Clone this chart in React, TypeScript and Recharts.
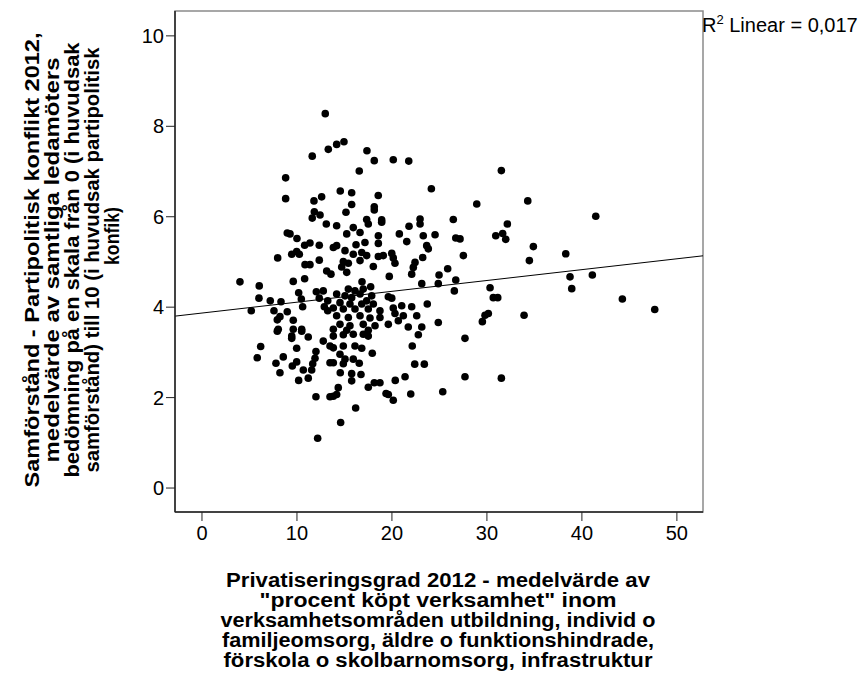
import { ScatterChart, Scatter, XAxis, YAxis, ReferenceLine, ReferenceArea } from "recharts";

// Privatiseringsgrad 2012 (x) per kommun
const privGrad = [
  12.98, 13.3, 11.61, 8.81, 8.81, 12.6, 11.79, 11.83, 12.43, 11.61,
  14.18, 14.95, 17.37, 18.14, 20.14, 21.77, 16.56, 14.56, 15.76, 18.56,
  24.15, 15.76, 18.14, 18.14, 15.16, 17.34, 18.92, 22.96, 26.46, 8.98,
  9.27, 10.0, 10.81, 11.37, 12.35, 13.09, 7.97, 9.45, 9.97, 10.25,
  10.85, 11.37, 12.35, 13.13, 4.0, 6.03, 9.61, 10.81, 6.0, 7.19,
  8.32, 10.18, 10.46, 12.04, 12.77, 12.35, 13.24, 5.19, 7.58, 8.98,
  8.21, 7.93, 10.6, 9.61, 12.88, 13.24, 8.03, 9.61, 10.5, 14.18,
  15.93, 16.64, 15.24, 17.51, 18.92, 21.8, 20.78, 21.56, 18.57, 18.57,
  17.16, 16.22, 14.18, 13.83, 15.06, 15.93, 16.82, 17.34, 18.57, 19.09,
  19.98, 20.14, 20.32, 18.04, 16.64, 15.41, 14.88, 14.71, 15.24, 13.58,
  19.72, 22.43, 22.25, 22.08, 23.3, 23.66, 23.83, 24.54, 23.24, 25.87,
  24.96, 26.72, 22.96, 16.85, 17.76, 15.41, 16.11, 16.98, 14.18, 15.06,
  15.76, 16.64, 17.87, 17.34, 14.53, 15.58, 16.82, 18.04, 13.83, 14.88,
  16.11, 17.51, 18.74, 19.62, 19.98, 20.14, 21.03, 22.08, 23.14, 24.88,
  26.57, 26.72, 23.72, 20.32, 21.2, 22.61, 14.18, 15.41, 16.64, 17.69,
  18.74, 14.53, 15.58, 16.98, 18.22, 19.62, 20.67, 21.72, 23.14, 24.88,
  13.83, 15.24, 17.51, 7.93, 9.45, 9.45, 10.5, 11.19, 12.77, 6.18,
  5.82, 8.56, 9.97, 12.0, 7.79, 11.9, 11.66, 9.51, 9.97, 10.67,
  11.55, 8.21, 10.18, 11.19, 12.0, 12.18, 13.48, 13.48, 13.48, 13.83,
  14.88, 15.93, 16.98, 17.51, 13.83, 14.88, 16.11, 16.82, 14.53, 15.06,
  15.93, 16.56, 13.83, 14.88, 17.93, 14.56, 15.76, 15.76, 16.74, 14.35,
  13.83, 14.18, 17.51, 18.14, 18.74, 19.38, 19.62, 20.14, 20.35, 21.38,
  21.98, 22.4, 23.41, 22.14, 22.78, 25.35, 16.18, 14.6, 31.52, 28.93,
  34.3, 32.15, 30.93, 31.66, 31.98, 34.89, 27.52, 34.47, 38.3, 41.46,
  27.17, 30.33, 30.67, 31.14, 30.15, 29.8, 29.52, 33.91, 27.69, 27.69,
  31.52, 38.75, 38.93, 41.1, 44.26, 47.67,
];

// Samförstånd - partipolitisk konflikt 2012 (y) per kommun
const samforstand = [
  8.28, 7.49, 7.34, 6.86, 6.4, 6.44, 6.35, 6.11, 6.04, 5.97,
  7.6, 7.66, 7.46, 7.24, 7.26, 7.23, 7.01, 6.57, 6.53, 6.47,
  6.62, 6.27, 6.22, 6.15, 6.1, 5.94, 5.93, 5.95, 5.94, 5.64,
  5.62, 5.52, 5.37, 5.42, 5.37, 5.84, 5.09, 5.17, 5.23, 5.17,
  4.94, 4.94, 5.04, 4.8, 4.56, 4.47, 4.57, 4.63, 4.2, 4.14,
  4.12, 4.32, 4.18, 4.34, 4.36, 4.2, 4.14, 3.92, 3.92, 3.9,
  3.79, 3.72, 4.01, 3.71, 4.01, 3.92, 3.51, 3.51, 3.51, 5.8,
  5.76, 5.65, 5.62, 5.84, 5.88, 5.79, 5.62, 5.45, 5.58, 5.41,
  5.43, 5.38, 5.36, 5.32, 5.25, 5.17, 5.21, 5.14, 5.12, 5.14,
  5.19, 5.09, 4.97, 4.9, 5.03, 4.97, 5.01, 4.89, 4.77, 4.73,
  4.68, 4.99, 4.88, 4.73, 5.58, 5.36, 5.29, 5.6, 5.1, 4.85,
  4.71, 5.53, 5.84, 4.56, 4.45, 4.4, 4.36, 4.4, 4.29, 4.25,
  4.21, 4.29, 4.25, 4.14, 4.1, 4.07, 4.07, 4.07, 3.98, 3.96,
  3.96, 3.96, 3.92, 4.23, 4.2, 3.98, 4.03, 4.01, 4.52, 4.52,
  4.36, 4.6, 4.07, 3.86, 3.81, 3.81, 3.81, 3.77, 3.81, 3.76,
  3.77, 3.62, 3.59, 3.62, 3.59, 3.62, 3.7, 3.56, 3.56, 3.66,
  3.51, 3.49, 3.49, 3.47, 3.36, 3.31, 3.47, 3.34, 3.25, 3.13,
  2.88, 2.9, 3.09, 3.02, 2.76, 2.87, 2.75, 2.7, 2.79, 2.61,
  2.61, 2.55, 2.38, 2.43, 2.02, 1.1, 3.14, 2.77, 2.02, 3.36,
  3.39, 3.4, 3.4, 3.36, 3.1, 3.14, 3.14, 3.09, 2.96, 2.85,
  2.85, 2.76, 2.77, 2.75, 2.98, 2.55, 2.53, 2.37, 2.51, 2.22,
  2.03, 2.07, 2.23, 2.33, 2.33, 2.09, 2.07, 1.94, 2.38, 2.46,
  2.08, 2.74, 2.74, 3.14, 3.39, 2.13, 1.77, 1.45, 7.02, 6.28,
  6.35, 5.84, 5.58, 5.63, 5.5, 5.34, 5.14, 5.03, 5.18, 6.01,
  5.51, 4.43, 4.21, 4.21, 3.86, 3.82, 3.68, 3.82, 3.31, 2.46,
  2.43, 4.67, 4.41, 4.71, 4.18, 3.95,
];

const xTicks = [0, 10, 20, 30, 40, 50];
const yTicks = [0, 2, 4, 6, 8, 10];
const xDomain = [-2.84, 52.75];
const yDomain = [-0.53, 10.55];

// linjär anpassning (avläst)
const fitIntercept = 3.87;
const fitSlope = 0.024;
const r2Value = "0,017";

const yTitleLines = [
  "Samförstånd - Partipolitisk konflikt  2012,",
  "medelvärde av samtliga ledamöters",
  "bedömning på en skala från 0 (i huvudsak",
  "samförstånd) till 10 (i huvudsak partipolitisk",
  "konfik)",
];

const xTitleLines = [
  "Privatiseringsgrad 2012 - medelvärde av",
  "\"procent köpt verksamhet\" inom",
  "verksamhetsområden utbildning, individ o",
  "familjeomsorg, äldre o funktionshindrade,",
  "förskola o skolbarnomsorg, infrastruktur",
];

const points = privGrad.map((x, i) => ({ x, y: samforstand[i] }));
const fitSegment = xDomain.map((x) => ({ x, y: fitIntercept + fitSlope * x }));

const font = "'Liberation Sans', Arial, Helvetica, sans-serif";

const Dot = (props: any) => (
  <circle cx={props.cx} cy={props.cy} r={3.8} fill="#000" />
);

const yTitleLen = [455, 405, 435, 425, 58];
const yTitleCenter = [260, 260, 260, 260, 236];
const xTitleLen = [424, 357, 435, 432, 429];

export default function App() {
  return (
    <div style={{ position: "absolute", left: 0, top: 0, width: 861, height: 680, background: "#fff" }}>
      <ScatterChart
        width={861}
        height={680}
        margin={{ top: 11, right: 158, left: 115, bottom: 128 }}
      >
        <ReferenceArea
          x1={xDomain[0]}
          x2={xDomain[1]}
          y1={yDomain[0]}
          y2={yDomain[1]}
          fill="none"
          stroke="#8a8a8a"
          strokeWidth={1.5}
          ifOverflow="visible"
        />
        <XAxis
          type="number"
          dataKey="x"
          domain={xDomain}
          ticks={xTicks}
          allowDataOverflow
          height={40}
          tickSize={9}
          tickMargin={5}
          axisLine={{ stroke: "#222", strokeWidth: 1.5 }}
          tickLine={{ stroke: "#222" }}
          tick={{ fill: "#000", fontSize: 20, fontFamily: font }}
        />
        <YAxis
          type="number"
          dataKey="y"
          domain={yDomain}
          ticks={yTicks}
          allowDataOverflow
          width={60}
          tickSize={9}
          tickMargin={2}
          axisLine={{ stroke: "#222", strokeWidth: 1.5 }}
          tickLine={{ stroke: "#222" }}
          tick={{ fill: "#000", fontSize: 20, fontFamily: font }}
        />
        <ReferenceLine segment={fitSegment} stroke="#000" strokeWidth={1} ifOverflow="visible" />
        <Scatter data={points} shape={Dot} isAnimationActive={false} />
      </ScatterChart>
      <svg
        width={861}
        height={680}
        style={{ position: "absolute", left: 0, top: 0, pointerEvents: "none" }}
        fontFamily={font}
      >
        {yTitleLines.map((line, i) => {
          const x = 39 + i * 20;
          const y = yTitleCenter[i];
          return (
            <text
              key={i}
              x={x}
              y={y}
              transform={`rotate(-90, ${x}, ${y})`}
              textAnchor="middle"
              fontWeight="bold"
              fontSize={20}
              textLength={yTitleLen[i]}
              lengthAdjust="spacingAndGlyphs"
              fill="#000"
            >
              {line}
            </text>
          );
        })}
        {xTitleLines.map((line, i) => (
          <text
            key={i}
            x={438}
            y={587 + i * 20}
            textAnchor="middle"
            fontWeight="bold"
            fontSize={20}
            textLength={xTitleLen[i]}
            lengthAdjust="spacingAndGlyphs"
            fill="#000"
          >
            {line}
          </text>
        ))}
        <text x={702} y={32} fontSize={20} fill="#000">
          R
          <tspan dy={-8} fontSize={13}>2</tspan>
          <tspan dy={8}> Linear = {r2Value}</tspan>
        </text>
      </svg>
    </div>
  );
}
